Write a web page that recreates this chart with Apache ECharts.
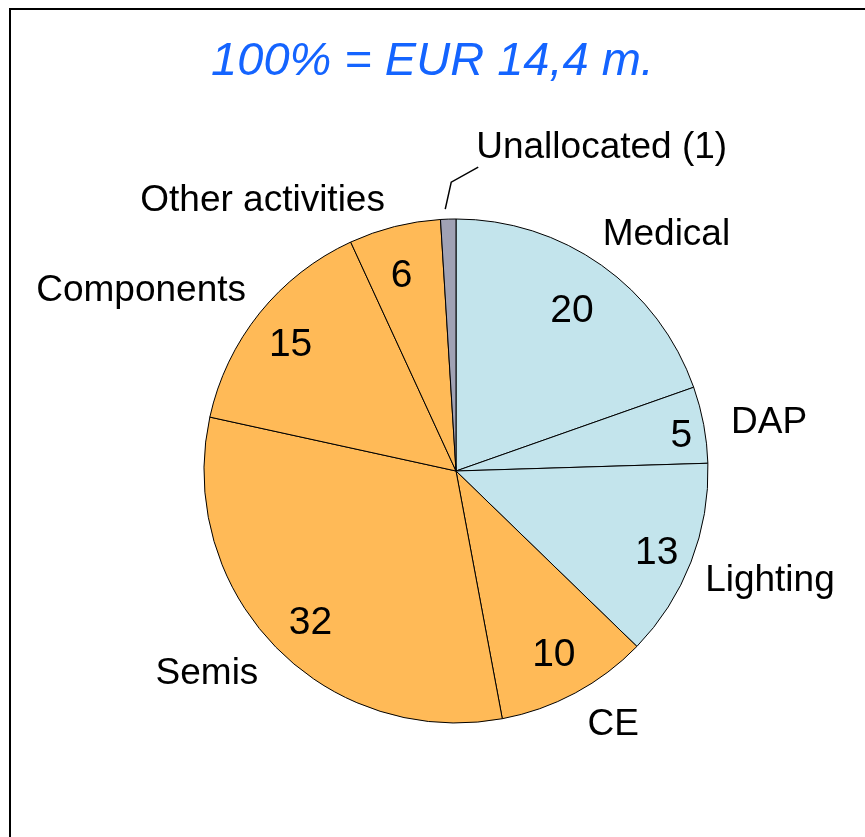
<!DOCTYPE html>
<html>
<head>
<meta charset="utf-8">
<style>
  html, body { margin: 0; padding: 0; background: #fff; }
  #chart { width: 865px; height: 837px; }
</style>
<script src="https://cdn.jsdelivr.net/npm/echarts@6/dist/echarts.min.js"></script>
</head>
<body>
<div id="chart"></div>
<script>
// segments clockwise from 12 o'clock
var segments = ['Medical', 'DAP', 'Lighting', 'CE', 'Semis', 'Components', 'Other activities', 'Unallocated (1)'];
// share in % as printed on the slices
var shares = [20, 5, 13, 10, 32, 15, 6, 1];
var titleText = '100% = EUR 14,4 m.';

// styles / label placement (kept apart from the data)
var sliceColors = ['#c3e4ec', '#c3e4ec', '#c3e4ec', '#ffba57', '#ffba57', '#ffba57', '#ffba57', '#a0a2b4'];
var nameLen = [37.5, 11, 52.5, 36, 40, 35, 27, 15];
var nameLen2 = [-25.6, 11.5, -39.8, -9.7, -17, -18.6, -2, 15];
// small nudges of the numbers inside the slices [dx, dy]
var numberNudge = [[-6, 12], [18, 4], [4, 6], [-2, -2], [6, 5], [-1, 7], [-3, 10], [0, 0]];
var FONT = "'Liberation Sans', Arial, sans-serif";

var chart = echarts.init(document.getElementById('chart'));

var nameData = segments.map(function (name, i) {
    return {
        name: name,
        value: shares[i],
        itemStyle: { color: sliceColors[i] },
        labelLine: {
            show: i === segments.length - 1,
            length: nameLen[i],
            length2: nameLen2[i]
        }
    };
});

var numberData = segments.map(function (name, i) {
    return {
        name: name,
        value: shares[i],
        label: { show: i !== segments.length - 1 }
    };
});

chart.setOption({
    animation: false,
    title: {
        text: titleText,
        left: 'center',
        top: 38,
        padding: 0,
        textStyle: {
            color: '#1464ff',
            fontFamily: FONT,
            fontSize: 47,
            fontStyle: 'italic',
            fontWeight: 'normal'
        }
    },
    graphic: [{
        type: 'rect',
        shape: { x: 10, y: 9, width: 900, height: 900 },
        style: { fill: 'none', stroke: '#000', lineWidth: 2 },
        silent: true
    }],
    series: [
        {
            // slices + segment names
            type: 'pie',
            center: [456, 471],
            radius: 252,
            startAngle: 90,
            clockwise: true,
            avoidLabelOverlap: false,
            silent: true,
            itemStyle: { borderColor: '#000', borderWidth: 1 },
            label: {
                show: true,
                position: 'outside',
                formatter: '{b}',
                color: '#000',
                fontFamily: FONT,
                fontSize: 37
            },
            labelLine: {
                lineStyle: { color: '#000', width: 1.5 }
            },
            labelLayout: function (p) {
                if (p.dataIndex !== segments.length - 1 || !p.labelLinePoints) return;
                var p0 = p.labelLinePoints[0];
                return {
                    x: p0[0] + 28,
                    y: p0[1] - 71,
                    align: 'left',
                    verticalAlign: 'middle',
                    labelLinePoints: [
                        [p0[0] - 3, p0[1] - 10],
                        [p0[0] + 3, p0[1] - 37],
                        [p0[0] + 30, p0[1] - 52]
                    ]
                };
            },
            data: nameData
        },
        {
            // value numbers inside the slices
            type: 'pie',
            center: [456, 471],
            radius: [164, 252],
            startAngle: 90,
            clockwise: true,
            silent: true,
            itemStyle: { color: 'transparent', borderWidth: 0 },
            label: {
                show: true,
                position: 'inside',
                formatter: '{c}',
                color: '#000',
                fontFamily: FONT,
                fontSize: 39
            },
            labelLine: { show: false },
            labelLayout: function (p) {
                var n = numberNudge[p.dataIndex];
                return { dx: n[0], dy: n[1] };
            },
            data: numberData
        }
    ]
});
</script>
</body>
</html>
